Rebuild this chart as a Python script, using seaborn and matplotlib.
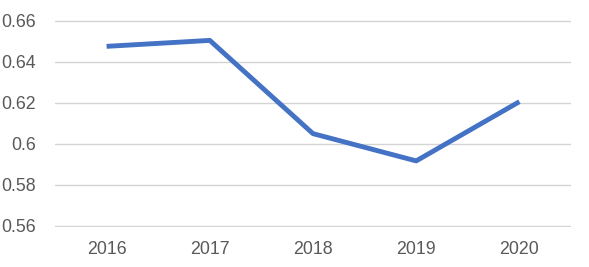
import matplotlib
matplotlib.use("Agg")
import matplotlib.pyplot as plt
import seaborn as sns
import pandas as pd

years = ["2016", "2017", "2018", "2019", "2020"]
values = [0.6475, 0.6504, 0.6049, 0.5916, 0.6205]
yticks = [0.56, 0.58, 0.60, 0.62, 0.64, 0.66]
ytick_labels = ["0.56", "0.58", "0.6", "0.62", "0.64", "0.66"]

sns.set_theme(style="white")
plt.rcParams["font.family"] = ["Liberation Sans", "DejaVu Sans"]

df = pd.DataFrame({"year": years, "value": values})

fig = plt.figure(figsize=(5.89, 2.67), dpi=100)
ax = fig.add_axes([55/589, 1-226.7/267, (571-55)/589, (226.7-19.7)/267])
sns.lineplot(data=df, x="year", y="value", ax=ax, color="#4472C4",
             linewidth=3.5, sort=False, solid_capstyle="butt", zorder=3)

ax.set_xlim(-0.5, 4.5)
ax.set_ylim(0.5595, 0.6605)
ax.set_yticks(yticks)
ax.set_yticklabels(ytick_labels)
ax.yaxis.grid(True, color="#D4D4D4", linewidth=1.0)
ax.xaxis.grid(False)
for s in ax.spines.values():
    s.set_visible(False)
ax.tick_params(axis="y", length=0, pad=14, labelsize=12.8, labelcolor="#595959")
ax.tick_params(axis="x", length=0, pad=10, labelsize=12.8, labelcolor="#595959")
ax.set_xlabel("")
ax.set_ylabel("")

fig.savefig("out.png", dpi=100)
